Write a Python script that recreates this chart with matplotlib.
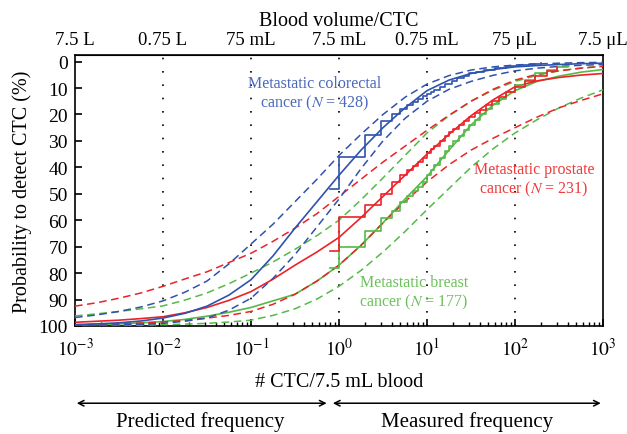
import numpy as np
import matplotlib
matplotlib.use("Agg")
import matplotlib.pyplot as plt
from matplotlib.ticker import FixedLocator, NullFormatter, NullLocator

plt.rcParams['font.family'] = ['Liberation Serif', 'DejaVu Serif']
plt.rcParams['mathtext.fontset'] = 'stix'

# positions of the read points (log10 of # CTC / 7.5 mL), quarter decades
log_ctc = [-3, -2.75, -2.5, -2.25, -2, -1.75, -1.5, -1.25, -1, -0.75, -0.5, -0.25,
           0, 0.25, 0.5, 0.75, 1, 1.25, 1.5, 1.75, 2, 2.25, 2.5, 2.75, 3]
ctc = [10.0 ** p for p in log_ctc]

# fitted curves (%)
blue_fit = [99.5, 99.2, 98.8, 98.1, 97, 95.2, 92.5, 88.3, 82.5, 73.5, 63, 53,
            43, 33.5, 25, 17.5, 11, 7, 4.5, 3, 2, 1.5, 1.1, 0.8, 0.6]
blue_hi = [96.8, 95.8, 94.5, 92.8, 90.5, 87.2, 83, 76.5, 69, 61.5, 53, 44.5,
           35.5, 27.5, 20, 13.5, 8.5, 5.3, 3.2, 2, 1.3, 0.9, 0.6, 0.4, 0.3]
blue_lo = [99.8, 99.7, 99.6, 99.4, 99, 98.2, 97, 94, 89.5, 82, 73, 62.5,
           52, 40.5, 30, 21.5, 15, 10.5, 7.5, 5.2, 3.5, 2.5, 1.8, 1.4, 1.1]

red_fit = [98.6, 98.2, 97.8, 97.2, 96.5, 95, 93, 90.3, 87, 82.3, 77, 72,
           66.5, 59, 51, 43, 35, 27.5, 20.5, 14.5, 9.5, 7.3, 6, 5.1, 4.5]
red_hi = [92.5, 91.2, 89.5, 87.5, 85, 82.2, 79.5, 76, 72.5, 68, 63, 57.5,
          51, 44.5, 38, 32, 26, 20.3, 15, 10.5, 7, 4.8, 3.5, 2.5, 1.8]
red_lo = [99.5, 99.4, 99.2, 98.9, 98.5, 97.9, 97, 96, 94.5, 91.8, 88, 83,
          77, 69.5, 61, 53, 45.5, 39, 33.5, 29, 25, 21, 17.5, 14.7, 12.2]

green_fit = [99.6, 99.4, 99.2, 98.8, 98.3, 97.5, 96.3, 94.8, 93, 90.5, 88, 83,
             77, 69.5, 61, 52, 43.5, 33.5, 24, 16.5, 11, 7.5, 5.5, 4, 3]
green_hi = [96.2, 95.4, 94.5, 93.5, 92.4, 90.2, 87.5, 84, 80, 75.8, 71, 65.8,
            60, 52.3, 44, 35.5, 27, 20.5, 15, 10.8, 7.5, 5.2, 3.5, 2.4, 1.7]
green_lo = [99.9, 99.85, 99.8, 99.7, 99.5, 99.3, 99, 98.5, 97.8, 96, 93.5, 89.8,
            85, 79, 72, 64.3, 56, 48, 40, 33, 27, 22, 17.5, 13.8, 10.7]

# measured (empirical) step curves
blue_x = [0.8, 1, 2, 3, 4, 5, 6, 7, 8, 9, 10, 11, 12, 14, 16, 19, 22, 26, 30, 36,
          45, 60, 80, 110, 150, 200]
blue_v = [48.3, 36, 27.8, 22.6, 19.8, 17.9, 16.5, 15.2, 14.2, 13.2, 12.3, 11.5,
          10.6, 9.5, 8.3, 7.3, 6.2, 5.3, 4.5, 3.8, 3.0, 2.3, 1.8, 1.3, 0.9, 0.6]
red_x = [0.8, 1, 2, 3, 4, 5, 6, 7, 8, 9, 10, 11, 12, 14, 16, 18, 20, 23, 26, 30,
         35, 40, 47, 55, 65, 80, 100, 130, 170, 230, 300]
red_v = [71.6, 58.6, 54.3, 49.9, 45.7, 43, 41, 39.5, 38, 36.5, 34.5, 33, 31.8, 30,
         28.2, 26.8, 25.5, 24, 22.5, 21, 19.5, 18.2, 16.5, 15, 13.5, 11.5, 9.5, 7.5,
         5.5, 3.5, 2.2]
green_x = [0.8, 1, 2, 3, 4, 5, 6, 7, 8, 9, 10, 11, 12, 14, 16, 18, 20, 23, 26, 30,
           35, 40, 47, 55, 65, 80, 100, 130, 170, 230, 300, 400]
green_v = [77.9, 70, 64, 59, 56.4, 53, 51, 49, 47.5, 45.5, 43, 41, 39, 36.5, 34, 32,
           30, 28, 26, 24, 22, 20, 18, 16, 14, 11.5, 9, 7, 4.5, 3, 2, 1.6]

decades = [1e-3, 1e-2, 1e-1, 1, 10, 100, 1000]
decade_labels = [r"$10^{-3}$", r"$10^{-2}$", r"$10^{-1}$", r"$10^{0}$",
                 r"$10^{1}$", r"$10^{2}$", r"$10^{3}$"]
volume_labels = ["7.5 L", "0.75 L", "75 mL", "7.5 mL", "0.75 mL",
                 "75 \u03bcL", "7.5 \u03bcL"]
minor_ticks = [m * d for d in decades[:-1] for m in range(2, 10)]

BLUE = "#2f52ad"
RED = "#ec2227"
GREEN = "#55b947"

fig = plt.figure(figsize=(6.27, 4.35), dpi=100)
ax = fig.add_axes([0.1196, 0.2483, 0.8421, 0.623])

# dotted vertical guides
for d in decades[1:-1]:
    ax.axvline(d, color="black", lw=1.2, linestyle=(0, (1, 7)), zorder=1)

dash = (0, (5, 3))
for col, fit, hi, lo in [(GREEN, green_fit, green_hi, green_lo),
                         (RED, red_fit, red_hi, red_lo),
                         (BLUE, blue_fit, blue_hi, blue_lo)]:
    ax.plot(ctc, fit, color=col, lw=1.2, zorder=3)
    ax.plot(ctc, hi, color=col, lw=1.1, linestyle=dash, zorder=3)
    ax.plot(ctc, lo, color=col, lw=1.1, linestyle=dash, zorder=3)

ax.plot(green_x, green_v, color=GREEN, lw=1.2, drawstyle="steps-post", zorder=4)
ax.plot(red_x, red_v, color=RED, lw=1.2, drawstyle="steps-post", zorder=4)
ax.plot(blue_x, blue_v, color=BLUE, lw=1.2, drawstyle="steps-post", zorder=4)

ax.set_xscale("log")
ax.set_xlim(1e-3, 1e3)
ax.set_ylim(100, -2.5)
ax.set_yticks(range(0, 101, 10))
ax.set_xticks(decades)
ax.set_xticklabels(decade_labels)
ax.xaxis.set_minor_locator(FixedLocator(minor_ticks))
ax.xaxis.set_minor_formatter(NullFormatter())
ax.tick_params(axis="both", which="major", direction="in", labelsize=14,
               length=5, width=1.2, top=False, right=False)
ax.tick_params(axis="x", which="major", pad=8)
ax.tick_params(axis="y", which="major", pad=5)
ax.tick_params(axis="x", which="minor", direction="in", length=3, width=1,
               top=False)
for s in ax.spines.values():
    s.set_linewidth(1.2)

ax.set_xlabel("# CTC/7.5 mL blood", fontsize=14.5, labelpad=9)
ax.set_ylabel("Probability to detect CTC (%)", fontsize=14.5, labelpad=5)

top = ax.secondary_xaxis("top")
top.set_xticks(decades)
top.set_xticklabels(volume_labels)
top.tick_params(length=0, labelsize=13.5, pad=5)
top.xaxis.set_minor_locator(NullLocator())
top.set_xlabel("Blood volume/CTC", fontsize=14.5, labelpad=4)

# curve labels
ax.text(0.53, 12.2, "Metastatic colorectal\ncancer ($N$ = 428)", color="#4a68bd",
        fontsize=11.5, ha="center", va="center", linespacing=1.15)
ax.text(164, 44.5, "Metastatic prostate\ncancer ($N$ = 231)", color="#ee3b3b",
        fontsize=11.5, ha="center", va="center", linespacing=1.15)
ax.text(7.1, 87.2, "Metastatic breast\ncancer ($N$ = 177)", color="#6cc05a",
        fontsize=11.5, ha="center", va="center", linespacing=1.15)

# predicted / measured arrows below the axis
tr = ax.get_xaxis_transform()
arrow_y = -0.285
ax.annotate("", xy=(10 ** -2.98, arrow_y), xytext=(10 ** -0.14, arrow_y),
            xycoords=tr, textcoords=tr, annotation_clip=False,
            arrowprops=dict(arrowstyle="<->", lw=1.1, color="black",
                            shrinkA=0, shrinkB=0))
ax.annotate("", xy=(10 ** -0.07, arrow_y), xytext=(10 ** 2.975, arrow_y),
            xycoords=tr, textcoords=tr, annotation_clip=False,
            arrowprops=dict(arrowstyle="<->", lw=1.1, color="black",
                            shrinkA=0, shrinkB=0))
ax.text(10 ** -1.58, -0.35, "Predicted frequency", transform=tr, fontsize=15,
        ha="center", va="center")
ax.text(10 ** 1.45, -0.35, "Measured frequency", transform=tr, fontsize=15,
        ha="center", va="center")

fig.savefig("out.png", dpi=100)
